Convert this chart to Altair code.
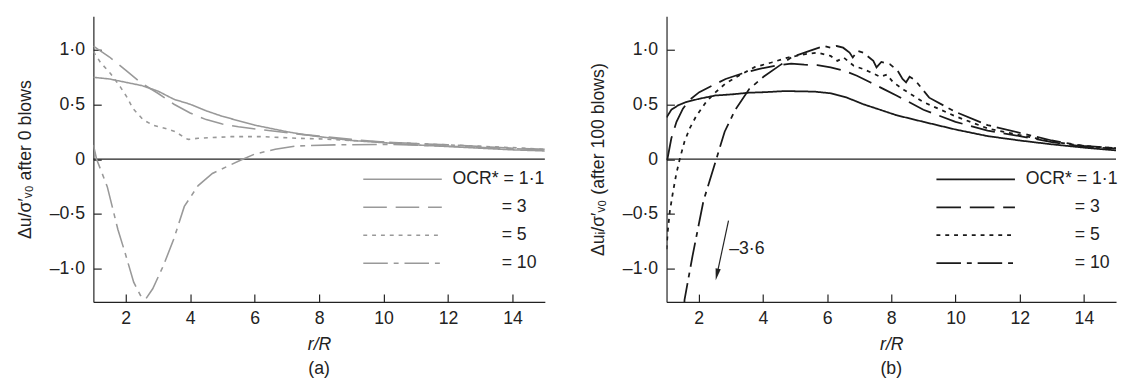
import altair as alt
import pandas as pd

FONT = "Liberation Sans"
NB = "\u00a0"
ZW = "\u200b"  # zero-width char so the leading indent of legend labels is not trimmed
FS = 18

# ---------------- data : panel (a), after 0 blows ----------------
a11_x = [1.0, 1.5, 2.0, 2.5, 3.0, 3.5, 4.0, 4.5, 5.0, 5.5, 6.0, 6.5, 7.0, 7.5, 8.0, 9.0, 10.0, 11.0, 12.0, 13.0, 14.0, 15.0]
a11_y = [0.745, 0.73, 0.70, 0.67, 0.62, 0.545, 0.50, 0.44, 0.39, 0.35, 0.31, 0.28, 0.25, 0.225, 0.205, 0.17, 0.15, 0.13, 0.115, 0.10, 0.085, 0.075]

a3_x = [1.0, 1.5, 2.0, 2.5, 3.0, 3.5, 4.0, 4.5, 5.0, 5.5, 6.3, 7.3, 8.0, 9.0, 10.0, 12.0, 14.0, 15.0]
a3_y = [1.03, 0.93, 0.81, 0.69, 0.60, 0.50, 0.42, 0.36, 0.32, 0.295, 0.265, 0.23, 0.21, 0.18, 0.155, 0.13, 0.10, 0.09]

a5_x = [1.0, 1.22, 1.53, 1.83, 2.03, 2.23, 2.54, 2.84, 3.24, 3.55, 3.85, 3.95, 4.25, 5.26, 6.27, 7.3, 8.0, 9.0, 10.0, 12.0, 14.0, 15.0]
a5_y = [0.98, 0.88, 0.78, 0.66, 0.57, 0.46, 0.36, 0.31, 0.28, 0.25, 0.19, 0.18, 0.19, 0.205, 0.205, 0.19, 0.185, 0.17, 0.155, 0.13, 0.105, 0.09]

a10_x = [1.0, 1.1, 1.43, 1.76, 1.98, 2.25, 2.46, 2.63, 2.84, 3.17, 3.49, 3.82, 4.25, 4.69, 5.12, 5.56, 5.99, 6.64, 7.3, 8.48, 10.1, 12.3, 15.0]
a10_y = [0.13, 0.0, -0.25, -0.64, -0.85, -1.12, -1.24, -1.27, -1.18, -0.97, -0.73, -0.43, -0.24, -0.13, -0.07, -0.01, 0.045, 0.09, 0.12, 0.13, 0.135, 0.115, 0.085]

# ---------------- data : panel (b), after 100 blows ----------------
b11_x = [1.0, 1.15, 1.36, 1.61, 2.02, 2.53, 3.04, 3.56, 4.07, 4.68, 5.6, 6.11, 6.62, 7.13, 7.65, 8.16, 9.0, 10.0, 11.0, 12.0, 13.0, 14.0, 15.0]
b11_y = [0.38, 0.45, 0.49, 0.52, 0.55, 0.58, 0.59, 0.605, 0.61, 0.62, 0.615, 0.60, 0.56, 0.50, 0.45, 0.40, 0.34, 0.27, 0.21, 0.17, 0.135, 0.105, 0.08]

b3_x = [1.02, 1.15, 1.31, 1.51, 1.72, 2.02, 2.43, 2.84, 3.35, 3.86, 4.37, 4.88, 5.29, 5.7, 6.11, 6.52, 6.93, 7.34, 7.75, 8.16, 9.0, 10.0, 11.0, 12.0, 13.0, 14.0, 15.0]
b3_y = [-0.01, 0.19, 0.34, 0.46, 0.54, 0.61, 0.67, 0.73, 0.78, 0.82, 0.85, 0.87, 0.86, 0.857, 0.836, 0.806, 0.76, 0.70, 0.64, 0.58, 0.45, 0.34, 0.26, 0.21, 0.155, 0.115, 0.095]

b5_x = [1.0, 1.04, 1.1, 1.2, 1.3, 1.41, 1.56, 1.72, 1.92, 2.23, 2.53, 2.84, 3.25, 3.76, 4.27, 4.78, 5.29, 5.7, 6.11, 6.32, 6.52, 6.83, 7.13, 7.44, 7.65, 7.86, 8.06, 8.4, 9.0, 10.0, 11.0, 12.0, 13.0, 14.0, 15.0]
b5_y = [-0.82, -0.65, -0.48, -0.30, -0.14, 0.0, 0.16, 0.28, 0.39, 0.52, 0.61, 0.69, 0.76, 0.84, 0.88, 0.925, 0.955, 0.97, 0.94, 0.895, 0.925, 0.85, 0.82, 0.78, 0.75, 0.77, 0.70, 0.63, 0.52, 0.39, 0.28, 0.22, 0.16, 0.12, 0.10]

b10_x = [1.3, 1.4, 1.5, 1.56, 1.81, 2.15, 2.55, 2.81, 3.14, 3.58, 4.02, 4.46, 4.9, 5.3, 5.5, 5.9, 6.1, 6.3, 6.5, 6.7, 6.8, 6.95, 7.13, 7.44, 7.54, 7.69, 7.95, 8.19, 8.35, 8.46, 8.57, 8.74, 9.18, 10.0, 11.0, 12.0, 13.0, 14.0, 15.0]
b10_y = [-3.6, -2.5, -1.7, -1.28, -0.88, -0.38, 0.0, 0.25, 0.45, 0.64, 0.75, 0.84, 0.93, 0.97, 0.99, 1.03, 1.015, 1.03, 1.015, 0.97, 0.925, 0.985, 0.97, 0.895, 0.835, 0.885, 0.865, 0.81, 0.73, 0.70, 0.75, 0.72, 0.56, 0.43, 0.31, 0.24, 0.17, 0.12, 0.10]

ocr_labels = ["1·1", "3", "5", "10"]
x_ticks = [2, 4, 6, 8, 10, 12, 14]
y_ticks = [-1.0, -0.5, 0.0, 0.5, 1.0]

# annotation in (b)
arrow_x = [2.93]
arrow_y = [-0.56]
arrow_x2 = [2.57]
arrow_y2 = [-1.05]
note_x = [2.95]
note_y = [-0.82]
note_text = ["–3·6"]


def frame(pairs):
    parts = []
    for lab, xs, ys in pairs:
        parts.append(pd.DataFrame({"x": xs, "y": ys, "ocr": lab}))
    return pd.concat(parts, ignore_index=True)


df_a = frame([("1·1", a11_x, a11_y), ("3", a3_x, a3_y), ("5", a5_x, a5_y), ("10", a10_x, a10_y)])
df_b = frame([("1·1", b11_x, b11_y), ("3", b3_x, b3_y), ("5", b5_x, b5_y), ("10", b10_x, b10_y)])

xscale = alt.Scale(domain=[1, 15], nice=False, zero=False)
yscale = alt.Scale(domain=[-1.3, 1.3], nice=False, zero=False)

x_axis = alt.Axis(values=x_ticks, title="r/R", titleFontStyle="italic", titleFontWeight="normal",
                  titleFontSize=FS, titlePadding=8, labelFontSize=FS, labelPadding=16,
                  tickSize={"expr": "-8"}, grid=False, labelFlush=False)


def y_axis(title):
    return alt.Axis(values=y_ticks, title=title, titleFontWeight="normal", titleFontSize=FS,
                    titlePadding=15, labelFontSize=FS, labelPadding=17, tickSize={"expr": "-8"},
                    grid=False,
                    labelExpr="datum.value == 0 ? '0' : replace(replace(replace(format(datum.value, '.1f'), '.', '·'), '−', '–'), '-', '–')")


legend_expr = ("datum.label == '1·1' ? 'OCR* = 1·1' : '" + ZW + NB * 10 + "= ' + datum.label")


def panel(df, color, sw, dashes, ytitle, sub, width, annotate=False):
    xa = x_axis
    ya = y_axis(ytitle)
    X = lambda f: alt.X(f, scale=xscale, axis=xa)
    Y = lambda f: alt.Y(f, scale=yscale, axis=ya)
    zero = alt.Chart(pd.DataFrame({"x": [1.0], "y": [0.0]})).mark_rule(
        color="#222222", strokeWidth=1.2).encode(y=Y("y:Q"))
    lines = alt.Chart(df).mark_line(color=color, strokeWidth=sw, clip=True).encode(
        x=X("x:Q"),
        y=Y("y:Q"),
        strokeDash=alt.StrokeDash("ocr:N", scale=alt.Scale(domain=ocr_labels, range=dashes),
                                  legend=alt.Legend(orient="none", legendX=274, legendY=157, title=None,
                                                    symbolType="stroke", symbolSize=6400,
                                                    symbolStrokeWidth=sw, symbolStrokeColor=color,
                                                    labelFontSize=FS, labelFont=FONT, labelColor="#222222",
                                                    labelOffset=10, rowPadding=10.5, clipHeight=18,
                                                    padding=0, labelExpr=legend_expr, labelLimit=300)),
    )
    layers = [zero, lines]
    if annotate:
        arrow_df = pd.DataFrame({"x": arrow_x, "y": arrow_y, "x2": arrow_x2, "y2": arrow_y2})
        head_df = pd.DataFrame({"x": arrow_x2, "y": arrow_y2})
        note_df = pd.DataFrame({"x": note_x, "y": note_y, "t": note_text})
        layers.append(alt.Chart(arrow_df).mark_rule(color="#222222", strokeWidth=1.2).encode(
            x=X("x:Q"), y=Y("y:Q"), x2="x2:Q", y2="y2:Q"))
        layers.append(alt.Chart(head_df).mark_point(shape="M0,1 L-0.45,-1 L0.45,-1 Z", filled=True,
                                                    size=144, color="#222222", opacity=1,
                                                    angle=12).encode(x=X("x:Q"), y=Y("y:Q")))
        layers.append(alt.Chart(note_df).mark_text(align="left", baseline="middle", fontSize=FS,
                                                   font=FONT, color="#222222").encode(
            x=X("x:Q"), y=Y("y:Q"), text="t:N"))
    return alt.layer(*layers).properties(
        width=width, height=291,
        title=alt.TitleParams(sub, orient="bottom", fontSize=FS, fontWeight="normal", font=FONT,
                              color="#222222", offset=7))


grey = "#999999"
black = "#1a1a1a"
pa = panel(df_a, grey, 1.6, [[1, 0], [24, 9], [4, 5], [25, 6, 5, 6]],
           "Δu/σ′ᵥ₀ after 0 blows", "(a)", 460)
pb = panel(df_b, black, 1.8, [[1, 0], [25, 9], [4, 5], [25, 6, 5, 6]],
           "Δuᵢ/σ′ᵥ₀ (after 100 blows)", "(b)", 458, annotate=True)

chart = alt.hconcat(pa, pb, spacing=44).resolve_scale(
    strokeDash="independent").resolve_legend(strokeDash="independent").properties(
    padding={"left": 8, "top": 5, "right": 0, "bottom": 0}
).configure_view(stroke=None).configure_axis(
    labelFont=FONT, titleFont=FONT, labelColor="#222222", titleColor="#222222",
    domainColor="#222222", tickColor="#222222", domainWidth=1.2, tickWidth=1.2
).configure_legend(labelFont=FONT)

chart.save("out.html", embed_options={"renderer": "svg", "actions": False})
